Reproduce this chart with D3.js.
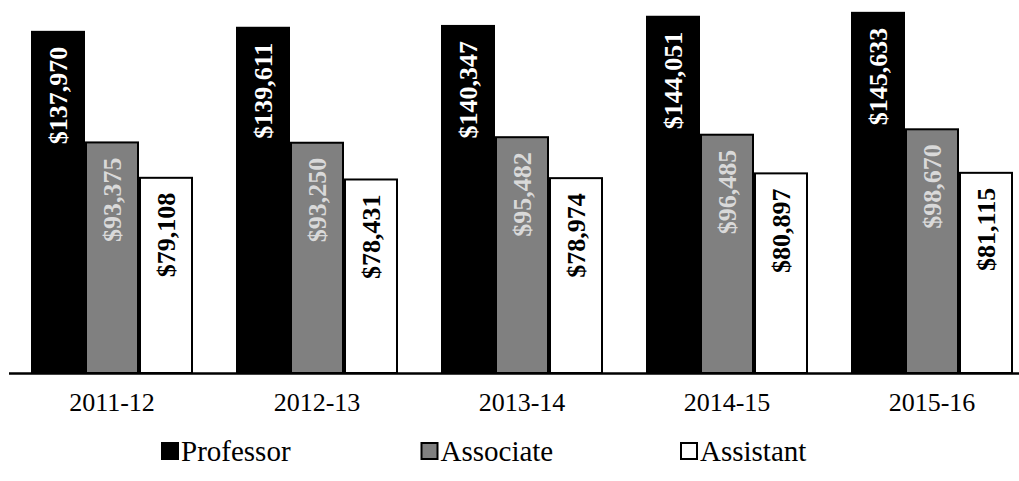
<!DOCTYPE html>
<html>
<head>
<meta charset="utf-8">
<script src="https://cdn.jsdelivr.net/npm/d3@7"></script>
<style>
    body { margin: 0; background: #fff; }
    svg text { font-family: "Liberation Serif", "Times New Roman", serif; }
</style>
</head>
<body>
<div id="chart"></div>
<script>
// Data
const years = ["2011-12", "2012-13", "2013-14", "2014-15", "2015-16"];
const seriesNames = ["Professor", "Associate", "Assistant"];
const professor = [137970, 139611, 140347, 144051, 145633];
const associate = [93375, 93250, 95482, 96485, 98670];
const assistant = [79108, 78431, 78974, 80897, 81115];

const fills = ["#000000", "#808080", "#ffffff"];
const labelColors = ["#ffffff", "#d9d9d9", "#000000"];
const serif = "'Liberation Serif', 'Times New Roman', serif";

const width = 1019, height = 481;
const baseY = 373;

const svg = d3.select("#chart").append("svg")
    .attr("width", width)
    .attr("height", height);

// build rows from the arrays
const rows = years.map((y, i) => ({
    year: y,
    values: [professor[i], associate[i], assistant[i]]
}));

// Scales
const x = d3.scaleBand()
    .domain(years)
    .range([9.5, 1034.5])
    .padding(0);

const x1 = d3.scaleBand()
    .domain(d3.range(seriesNames.length))
    .range([21.5, x.bandwidth() - 21.5])
    .padding(0);

const y = d3.scaleLinear()
    .domain([0, 150000])
    .range([baseY, 1]);

const fmt = d3.format("$,");

// Bars
const groups = svg.selectAll(".group")
    .data(rows)
    .join("g")
    .attr("class", "group")
    .attr("transform", d => "translate(" + x(d.year) + ",0)");

groups.selectAll("rect")
    .data(d => d.values.map((v, k) => ({ v, k })))
    .join("rect")
    .attr("x", d => x1(d.k) + (d.k === 0 ? 0 : 1))
    .attr("width", d => x1.bandwidth() - (d.k === 0 ? 0 : 2))
    .attr("y", d => y(d.v) + (d.k === 0 ? 0 : 1))
    .attr("height", d => baseY - y(d.v) - (d.k === 0 ? 0 : 1))
    .attr("fill", d => fills[d.k])
    .attr("stroke", d => d.k === 0 ? "none" : "#000")
    .attr("stroke-width", 2);

// Value labels, rotated, inside end
groups.selectAll(".val")
    .data(d => d.values.map((v, k) => ({ v, k })))
    .join("text")
    .attr("class", "val")
    .attr("transform", d => "translate(" + (x1(d.k) + x1.bandwidth() / 2) + "," + (y(d.v) + 16) + ") rotate(-90)")
    .attr("dy", "0.35em")
    .attr("text-anchor", "end")
    .attr("font-family", serif)
    .attr("font-size", "26px")
    .attr("font-weight", "bold")
    .attr("fill", d => labelColors[d.k])
    .text(d => fmt(d.v));

// X axis
const xAxis = d3.axisBottom(x).tickSize(0).tickPadding(20);
const gx = svg.append("g")
    .attr("transform", "translate(0," + baseY + ")")
    .call(xAxis);
gx.select(".domain").remove();
gx.selectAll("text")
    .attr("font-family", serif)
    .attr("font-size", "26px")
    .attr("fill", "#000");

svg.append("line")
    .attr("x1", 9).attr("x2", width)
    .attr("y1", baseY + 0.5).attr("y2", baseY + 0.5)
    .attr("stroke", "#000")
    .attr("stroke-width", 2.5);

// Legend
const legendX = d3.scalePoint()
    .domain(seriesNames)
    .range([161, 680]);

const legend = svg.selectAll(".legend")
    .data(seriesNames)
    .join("g")
    .attr("class", "legend")
    .attr("transform", d => "translate(" + legendX(d) + ",442)");

legend.append("rect")
    .attr("x", 1).attr("y", 1)
    .attr("width", 16).attr("height", 16)
    .attr("fill", (d, i) => fills[i])
    .attr("stroke", "#000")
    .attr("stroke-width", 2);

legend.append("text")
    .attr("x", 20)
    .attr("y", 19)
    .attr("font-family", serif)
    .attr("font-size", "29px")
    .attr("fill", "#000")
    .text(d => d);
</script>
</body>
</html>
